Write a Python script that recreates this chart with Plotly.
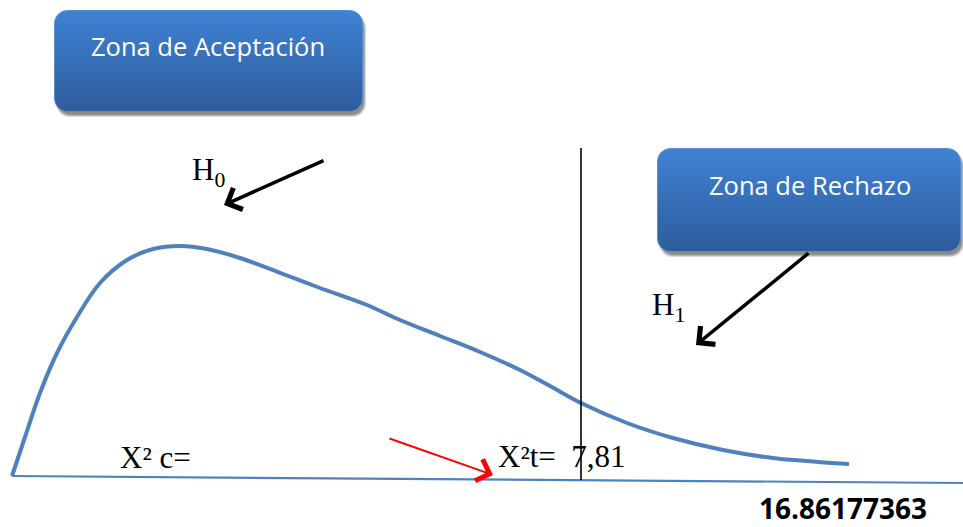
import base64
import plotly.graph_objects as go

W, H = 963, 527

# curva (coordenadas, en píxeles)
curve_x = [12, 25, 40, 57, 77, 100, 127, 153, 180, 207, 240, 283, 320, 367,
           400, 440, 480, 520, 550, 581, 627, 673, 723, 773, 849]
curve_y = [476, 437, 393, 353, 317, 283, 260, 249, 246, 249, 258, 274, 288, 305,
           320, 336, 352, 370, 386, 403, 423, 438, 450, 458, 464]

# eje base y línea crítica
base_x = [12, 963]
base_y = [476, 483]
crit_x = [581, 581]
crit_y = [148, 480]

labels = ["H<sub>0</sub>", "H<sub>1</sub>", "X² c=", "X²t=  7,81"]
box_texts = ["Zona de Aceptación", "Zona de Rechazo"]
result_text = "16.86177363"


def box_svg(w, h):
    """caja redondeada con degradado y sombra, como data URI"""
    bw, bh = w - 4, h - 6
    svg = (
        f'<svg xmlns="http://www.w3.org/2000/svg" width="{w}" height="{h}">'
        '<defs><linearGradient id="g" x1="0" y1="0" x2="0" y2="1">'
        '<stop offset="0" stop-color="#3f82d4"/>'
        '<stop offset="1" stop-color="#2d5c9c"/></linearGradient>'
        '<filter id="b"><feGaussianBlur stdDeviation="1.2"/></filter></defs>'
        f'<rect x="3" y="5" width="{bw}" height="{bh}" rx="13" fill="#8c8c8c" filter="url(#b)"/>'
        f'<rect x="0.5" y="0.5" width="{bw}" height="{bh}" rx="13" fill="url(#g)" '
        'stroke="#5a8ccb" stroke-width="1"/></svg>'
    )
    return "data:image/svg+xml;base64," + base64.b64encode(svg.encode()).decode()


fig = go.Figure()

fig.add_trace(go.Scatter(
    x=curve_x, y=curve_y, mode='lines', line_shape='spline',
    line=dict(color='#4f81bd', width=4), hoverinfo='skip'
))
fig.add_trace(go.Scatter(
    x=base_x, y=base_y, mode='lines',
    line=dict(color='#4f81bd', width=2.2), hoverinfo='skip'
))
fig.add_trace(go.Scatter(
    x=crit_x, y=crit_y, mode='lines',
    line=dict(color='black', width=1.6), hoverinfo='skip'
))

# cajas
boxes = [(54, 10, 312, 107), (657, 148, 307, 109)]
for (bx, by, bw, bh) in boxes:
    fig.add_layout_image(
        source=box_svg(bw, bh), xref='x', yref='y',
        x=bx, y=by, sizex=bw, sizey=bh,
        xanchor='left', yanchor='top', sizing='stretch', layer='below'
    )

box_font = dict(family="Open Sans, sans-serif", size=25.5, color='white')
fig.add_annotation(x=208, y=46, text=box_texts[0], showarrow=False, font=box_font)
fig.add_annotation(x=810, y=185, text=box_texts[1], showarrow=False, font=box_font)

# flechas
arrows = [
    dict(x=224, y=205, ax=325, ay=160, color='black', width=3.5, size=1.3),
    dict(x=696, y=345, ax=810, ay=252, color='black', width=3.5, size=1.3),
    dict(x=493, y=475, ax=388, ay=438, color='red', width=2, size=2.2),
]
for a in arrows:
    fig.add_annotation(
        x=a['x'], y=a['y'], ax=a['ax'], ay=a['ay'], axref='x', ayref='y',
        xref='x', yref='y', text='', showarrow=True, arrowhead=4,
        arrowsize=a['size'], arrowwidth=a['width'], arrowcolor=a['color']
    )

serif = dict(family="Liberation Serif, Times New Roman, serif", size=31, color='black')
fig.add_annotation(x=208, y=172, text=labels[0], showarrow=False, font=serif)
fig.add_annotation(x=668, y=307, text=labels[1], showarrow=False, font=serif)
fig.add_annotation(x=118, y=457, text=labels[2], showarrow=False, font=serif, xanchor='left')
fig.add_annotation(x=496, y=456, text=labels[3], showarrow=False, font=serif, xanchor='left')

fig.add_annotation(
    x=843, y=508, text=f"<b>{result_text}</b>", showarrow=False, borderpad=0,
    font=dict(family="Open Sans, sans-serif", size=28, color='black')
)

fig.update_layout(
    width=W, height=H,
    margin=dict(l=0, r=0, t=0, b=0),
    plot_bgcolor='white', paper_bgcolor='white',
    showlegend=False,
    xaxis=dict(range=[0, W], visible=False, fixedrange=True),
    yaxis=dict(range=[H, 0], visible=False, fixedrange=True),
)

# sin margen del body para que la figura ocupe toda la ventana
fig.write_html(
    "out.html", config={'displayModeBar': False},
    post_script="document.body.style.margin='0';document.body.style.overflow='hidden';"
)
